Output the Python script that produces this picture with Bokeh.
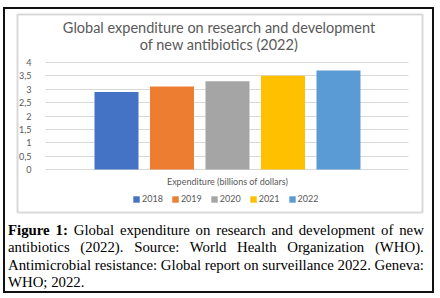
from bokeh.plotting import figure
from bokeh.models import Range1d, FixedTicker, Legend, LegendItem, Div, Label
from bokeh.layouts import column
from bokeh.embed import file_html
from bokeh.resources import INLINE

years = ["2018", "2019", "2020", "2021", "2022"]
values = [2.9, 3.1, 3.3, 3.5, 3.7]
colors = ["#4472C4", "#ED7D31", "#A5A5A5", "#FFC000", "#5B9BD5"]
y_ticks = [0, 0.5, 1, 1.5, 2, 2.5, 3, 3.5, 4]
y_tick_labels = ["0", "0,5", "1", "1,5", "2", "2,5", "3", "3,5", "4"]
title_lines = ["Global expenditure on research and development", "of new antibiotics (2022)"]
x_label = "Expenditure (billions of dollars)"
caption_bold = "Figure 1:"
caption_lines = [
    "Global expenditure on research and development of new",
    "antibiotics (2022). Source: World Health Organization (WHO).",
    "Antimicrobial resistance: Global report on surveillance 2022. Geneva:",
    "WHO; 2022.",
]

GRAY = "#595959"
FONT = "Lato"

xs = list(range(len(years)))  # bar slots

p = figure(width=409, height=202,
           x_range=Range1d(-1.784, 5.514), y_range=Range1d(-1.607, 5.794),
           output_backend="svg", toolbar_location=None,
           min_border_left=2, min_border_right=2, min_border_top=2, min_border_bottom=2,
           outline_line_color="#D9D9D9", outline_line_width=2,
           background_fill_color="white", border_fill_color="white",
           margin=(3, 8, 0, 10))

r = p.vbar(x=xs, top=values, width=0.793, fill_color=colors, line_color=None)

p.xaxis.visible = False
p.xgrid.visible = False
grid_left, grid_right = -1.279, 5.261
p.ygrid.ticker = FixedTicker(ticks=y_ticks)
p.ygrid.cross_bounds = (grid_left, grid_right)
p.ygrid.grid_line_color = "#D9D9D9"
p.ygrid.grid_line_width = 1

yax = p.yaxis[0]
yax.fixed_location = grid_left
yax.ticker = FixedTicker(ticks=y_ticks)
yax.major_label_overrides = {t: l for t, l in zip(y_ticks, y_tick_labels)}
yax.axis_line_color = None
yax.major_tick_line_color = None
yax.minor_tick_line_color = None
yax.major_label_text_font = FONT
yax.major_label_text_font_size = "9px"
yax.major_label_text_color = GRAY
yax.major_label_standoff = 8

title_x = 1.847
for text, ty in zip(title_lines, [5.29, 4.69]):
    p.add_layout(Label(x=title_x, y=ty, text=text,
                       text_align="center", text_baseline="middle", text_font=FONT,
                       text_font_size="14.5px", text_color=GRAY))

p.add_layout(Label(x=xs[2], y=-0.449, text=x_label,
                   text_align="center", text_baseline="middle", text_font=FONT,
                   text_font_size="9px", text_color=GRAY))

legend = Legend(items=[LegendItem(label=y, renderers=[r], index=i) for i, y in enumerate(years)],
                orientation="horizontal", location=(115, 8), padding=0, margin=0, spacing=8,
                glyph_width=8, glyph_height=8, label_standoff=2, label_height=10,
                label_text_font=FONT, label_text_font_size="9px", label_text_color=GRAY,
                border_line_color=None, background_fill_alpha=0)
p.add_layout(legend)

rows = []
for i, line in enumerate(caption_lines):
    body = (f"<b>{caption_bold}</b> " + line) if i == 0 else line
    if i < len(caption_lines) - 1:
        rows.append(f'<div style="text-align:justify;text-align-last:justify">{body}</div>')
    else:
        rows.append(f'<div style="text-align:left">{body}</div>')
html = ('<div style="font-family:\'Liberation Serif\';font-size:14.8px;line-height:17.3px;color:#000">'
        + "".join(rows) + "</div>")
div = Div(text=html, width=421, height=69, margin=(8, 3, 0, 3))

lay = column(p, div, margin=(7, 0, 0, 3), styles={"border": "2px solid #111"})

open("out.html", "w").write(file_html(lay, INLINE))
